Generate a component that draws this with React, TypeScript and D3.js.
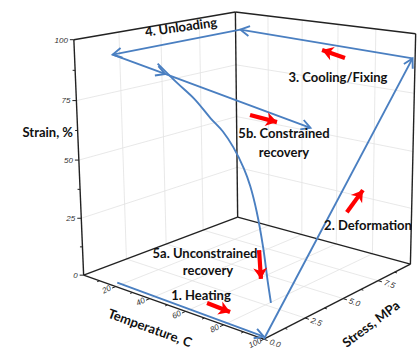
import * as d3 from "d3";

const width = 417;
const height = 350;

const tempDomain = [0, 100];
const stressDomain = [0, 10];
const strainDomain = [0, 100];

const tempTicks = [20, 40, 60, 80, 100];
const tempMinorTicks = [10, 30, 50, 70, 90];
const stressTicks = [0, 2.5, 5, 7.5];
const stressMinorTicks = [1.25, 3.75, 6.25, 8.75];
const strainTicks = [0, 25, 50, 75, 100];
const strainMinorTicks = [12.5, 37.5, 62.5, 87.5];

// [temperature, stress, strain]
type Pt = [number, number, number];
const heating: Pt[] = [[21, 0, 2], [100, 0, 1]];
const deformation: Pt[] = [[100, 0, 0], [100, 9.8, 90]];
const cooling: Pt[] = [[100, 9.8, 90], [3, 10, 92]];
const unloading: Pt[] = [[3, 10, 92], [0, 2.1, 91]];
const constrained: Pt[] = [[0, 2.1, 91], [0, 5.2, 78], [100, 2.8, 74]];
const unconstrained: Pt[] = [
  [48, 0, 96], [58, 0, 90], [67, 0, 85], [75, 0, 79], [81, 0, 75], [86, 0, 70],
  [91, 0, 63], [94, 0, 57], [97, 0, 48], [100, 0, 35], [102, 0, 23], [103.5, 0, 15],
];

// red direction arrows: [from, to]
const redArrows: Pt[][] = [
  [[71.6, 0, 6.5], [83.4, 0, 6.1]],
  [[98, 0, 33.8], [98.8, 0, 23]],
  [[100, 5.2, 35.4], [100, 6.3, 41.8]],
  [[63.9, 10, 85.7], [51.3, 10, 87.8]],
  [[51.4, 5, 67.6], [65.9, 5, 66.8]],
];

// screen position of box corners / strain ticks, used to fit the camera
const calib: { p: Pt; px: [number, number] }[] = [
  { p: [0, 0, 0], px: [83, 272] },
  { p: [1, 0, 0], px: [265, 339] },
  { p: [1, 1, 0], px: [411, 265] },
  { p: [0, 1, 0], px: [237, 217] },
  { p: [0, 0, 1], px: [74, 38] },
  { p: [0, 1, 1], px: [237, 12] },
  { p: [1, 1, 1], px: [414, 33] },
  { p: [0, 0, 0.25], px: [81, 220] },
  { p: [0, 0, 0.5], px: [79, 162] },
  { p: [0, 0, 0.75], px: [76, 102] },
];

const tScale = d3.scaleLinear().domain(tempDomain).range([0, 1]);
const sScale = d3.scaleLinear().domain(stressDomain).range([0, 1]);
const eScale = d3.scaleLinear().domain(strainDomain).range([0, 1]);

function solve(A: number[][], b: number[]) {
  const n = b.length;
  const M = A.map((r, i) => [...r, b[i]]);
  for (let c = 0; c < n; c++) {
    let piv = c;
    for (let r = c + 1; r < n; r++) if (Math.abs(M[r][c]) > Math.abs(M[piv][c])) piv = r;
    [M[c], M[piv]] = [M[piv], M[c]];
    for (let r = 0; r < n; r++) {
      if (r === c) continue;
      const f = M[r][c] / M[c][c];
      for (let k = c; k <= n; k++) M[r][k] -= f * M[c][k];
    }
  }
  return M.map((r, i) => r[n] / r[i]);
}

// least squares fit of a 3x4 perspective camera to the calibration points
function fitCamera() {
  const rows: number[][] = [];
  const rhs: number[] = [];
  for (const { p: [x, y, z], px: [U, V] } of calib) {
    const u = (U - 200) / 100;
    const v = (V - 175) / 100;
    rows.push([x, y, z, 1, 0, 0, 0, 0, -u * x, -u * y, -u * z]);
    rhs.push(u);
    rows.push([0, 0, 0, 0, x, y, z, 1, -v * x, -v * y, -v * z]);
    rhs.push(v);
  }
  const n = 11;
  const AtA = Array.from({ length: n }, () => new Array(n).fill(0));
  const Atb = new Array(n).fill(0);
  rows.forEach((r, k) => {
    for (let i = 0; i < n; i++) {
      for (let j = 0; j < n; j++) AtA[i][j] += r[i] * r[j];
      Atb[i] += r[i] * rhs[k];
    }
  });
  const m = solve(AtA, Atb);
  return [
    [m[0], m[1], m[2], m[3]],
    [m[4], m[5], m[6], m[7]],
    [m[8], m[9], m[10], 1],
  ];
}

const P = fitCamera();

function project([T, S, E]: Pt): [number, number] {
  const X = [tScale(T), sScale(S), eScale(E), 1];
  const dot = (r: number[]) => r[0] * X[0] + r[1] * X[1] + r[2] * X[2] + r[3] * X[3];
  const w = dot(P[2]);
  return [(dot(P[0]) / w) * 100 + 200, (dot(P[1]) / w) * 100 + 175];
}

const unit = (a: [number, number], b: [number, number]) => {
  const dx = b[0] - a[0];
  const dy = b[1] - a[1];
  const l = Math.hypot(dx, dy);
  return [dx / l, dy / l];
};

const line2d = d3.line<[number, number]>();
const curve2d = d3.line<[number, number]>().curve(d3.curveCatmullRom.alpha(0.5));
const seg = (pts: Pt[]) => line2d(pts.map(project)) ?? "";

const blue = "#4a7fc1";
const red = "#ff0000";
const gridColor = "#e2e2e2";
const edgeColor = "#222";
const labelFont = "Lato, 'Open Sans', sans-serif";
const tickFont = "'Liberation Sans', Arial, sans-serif";

export default function App() {
  const [tMin, tMax] = tempDomain;
  const [sMin, sMax] = stressDomain;
  const [eMin, eMax] = strainDomain;

  const grid: Pt[][] = [];
  // floor
  tempTicks.filter((t) => t < tMax).forEach((t) => grid.push([[t, sMin, eMin], [t, sMax, eMin]]));
  stressTicks.filter((s) => s > sMin).forEach((s) => grid.push([[tMin, s, eMin], [tMax, s, eMin]]));
  // left wall
  stressTicks.filter((s) => s > sMin).forEach((s) => grid.push([[tMin, s, eMin], [tMin, s, eMax]]));
  strainTicks.filter((e) => e > eMin && e < eMax).forEach((e) => grid.push([[tMin, sMin, e], [tMin, sMax, e]]));
  // back wall
  tempTicks.filter((t) => t < tMax).forEach((t) => grid.push([[t, sMax, eMin], [t, sMax, eMax]]));
  strainTicks.filter((e) => e > eMin && e < eMax).forEach((e) => grid.push([[tMin, sMax, e], [tMax, sMax, e]]));

  const edges: Pt[][] = [
    [[tMin, sMin, eMin], [tMax, sMin, eMin]],
    [[tMax, sMin, eMin], [tMax, sMax, eMin]],
    [[tMax, sMax, eMin], [tMin, sMax, eMin]],
    [[tMin, sMax, eMin], [tMin, sMin, eMin]],
    [[tMin, sMin, eMin], [tMin, sMin, eMax]],
    [[tMin, sMax, eMin], [tMin, sMax, eMax]],
    [[tMax, sMax, eMin], [tMax, sMax, eMax]],
    [[tMin, sMin, eMax], [tMin, sMax, eMax]],
    [[tMin, sMax, eMax], [tMax, sMax, eMax]],
  ];

  const tTick = (t: number, len: number) => {
    const a = project([t, sMin, eMin]);
    const d = unit(a, project([t, sMin - 1, eMin]));
    return { a, b: [a[0] + d[0] * len, a[1] + d[1] * len] };
  };
  const sTick = (s: number, len: number) => {
    const a = project([tMax, s, eMin]);
    const d = unit(a, project([tMax + 10, s, eMin]));
    return { a, b: [a[0] + d[0] * len, a[1] + d[1] * len] };
  };
  const eTick = (e: number, len: number) => {
    const a = project([tMin, sMin, e]);
    return { a, b: [a[0] - len, a[1]] };
  };

  const sFmt = d3.format(".1f");

  return (
    <svg width={width} height={height} style={{ display: "block", position: "absolute", left: 0, top: 0 }}>
      <defs>
        <marker id="blueHead" markerUnits="userSpaceOnUse" markerWidth="20" markerHeight="20" viewBox="-10 -10 20 20" refX="0" refY="0" orient="auto">
          <path d="M-9,-5 L0,0 L-9,5" fill="none" stroke={blue} strokeWidth="1.9" />
        </marker>
        <marker id="redHead" markerUnits="userSpaceOnUse" markerWidth="26" markerHeight="26" viewBox="-13 -13 26 26" refX="0" refY="0" orient="auto">
          <path d="M-11,-7 L0,0 L-11,7 L-8,0 Z" fill={red} />
        </marker>
      </defs>
      <rect width={width} height={height} fill="#fff" />

      <g>
        {grid.map((g, i) => (
          <path key={i} d={seg(g)} stroke={gridColor} strokeWidth={0.8} fill="none" />
        ))}
      </g>
      <g>
        {edges.map((g, i) => (
          <path key={i} d={seg(g)} stroke={edgeColor} strokeWidth={1.4} fill="none" />
        ))}
      </g>

      <g stroke={edgeColor} strokeWidth={1}>
        {tempTicks.map((t) => { const k = tTick(t, 4); return <line key={t} x1={k.a[0]} y1={k.a[1]} x2={k.b[0]} y2={k.b[1]} />; })}
        {tempMinorTicks.map((t) => { const k = tTick(t, 2.5); return <line key={t} x1={k.a[0]} y1={k.a[1]} x2={k.b[0]} y2={k.b[1]} />; })}
        {stressTicks.map((s) => { const k = sTick(s, 4); return <line key={s} x1={k.a[0]} y1={k.a[1]} x2={k.b[0]} y2={k.b[1]} />; })}
        {stressMinorTicks.map((s) => { const k = sTick(s, 2.5); return <line key={s} x1={k.a[0]} y1={k.a[1]} x2={k.b[0]} y2={k.b[1]} />; })}
        {strainTicks.map((e) => { const k = eTick(e, 4); return <line key={e} x1={k.a[0]} y1={k.a[1]} x2={k.b[0]} y2={k.b[1]} />; })}
        {strainMinorTicks.map((e) => { const k = eTick(e, 2.5); return <line key={e} x1={k.a[0]} y1={k.a[1]} x2={k.b[0]} y2={k.b[1]} />; })}
      </g>

      <g fontFamily={tickFont} fontSize={8} fontStyle="italic" fill="#333">
        {tempTicks.map((t) => {
          const k = tTick(t, 10);
          return (
            <text key={t} transform={`translate(${k.b[0]},${k.b[1] - 1}) rotate(-27)`} textAnchor="middle" dy="0.35em">
              {t}
            </text>
          );
        })}
        {stressTicks.map((s) => {
          const k = sTick(s, 12);
          return (
            <text key={s} transform={`translate(${k.b[0]},${k.b[1]}) rotate(20)`} textAnchor="middle" dy="0.35em">
              {sFmt(s)}
            </text>
          );
        })}
        {strainTicks.map((e) => {
          const k = eTick(e, 6);
          return (
            <text key={e} x={k.b[0]} y={k.b[1]} textAnchor="end" dy="0.35em">
              {e}
            </text>
          );
        })}
      </g>

      <g fill="none" stroke={blue} strokeWidth={1.9}>
        <path d={seg(heating)} markerEnd="url(#blueHead)" />
        <path d={seg(deformation)} markerEnd="url(#blueHead)" />
        <path d={seg(cooling)} markerEnd="url(#blueHead)" />
        <path d={seg(unloading)} markerEnd="url(#blueHead)" />
        <path d={seg(constrained.slice(0, 2))} markerEnd="url(#blueHead)" />
        <path d={seg(constrained.slice(1))} markerEnd="url(#blueHead)" />
        <path d={curve2d(unconstrained.map(project)) ?? ""} />
      </g>

      <g stroke={red} strokeWidth={4.2} fill="none">
        {redArrows.map((a, i) => (
          <path key={i} d={seg(a)} markerEnd="url(#redHead)" />
        ))}
      </g>

      <g fontFamily={labelFont} fontWeight="bold" fontSize={13} fill="#111">
        <text x={73} y={137} textAnchor="end">Strain, %</text>
        <text transform="translate(150,328) rotate(20)" textAnchor="middle" dy="0.35em">Temperature, C</text>
        <text transform="translate(371,324) rotate(-37)" textAnchor="middle" dy="0.35em">Stress, MPa</text>
        <text transform="translate(181,27) rotate(-8)" textAnchor="middle" dy="0.35em">4. Unloading</text>
        <text x={338} y={82} textAnchor="middle">3. Cooling/Fixing</text>
        <text x={284} y={138} textAnchor="middle">5b. Constrained</text>
        <text x={284} y={157} textAnchor="middle">recovery</text>
        <text x={368} y={230} textAnchor="middle">2. Deformation</text>
        <text x={205} y={258} textAnchor="middle">5a. Unconstrained</text>
        <text x={208} y={275} textAnchor="middle">recovery</text>
        <text x={201} y={300} textAnchor="middle">1. Heating</text>
      </g>
    </svg>
  );
}
